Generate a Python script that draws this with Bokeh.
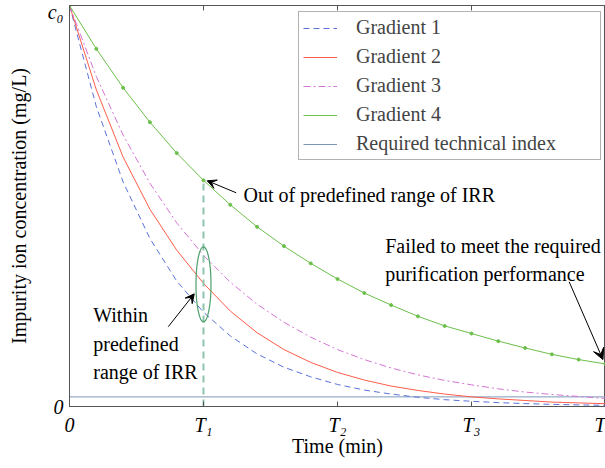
from bokeh.plotting import figure
from bokeh.models import Range1d, LinearAxis, FixedTicker, Legend, LegendItem, Label, Arrow, VeeHead
from bokeh.embed import file_html
from bokeh.resources import INLINE

# ---- data (concentration in units of c0) ----
time = [0.0, 0.2, 0.4, 0.6, 0.8, 1.0, 1.2, 1.4, 1.6, 1.8, 2.0,
        2.2, 2.4, 2.6, 2.8, 3.0, 3.2, 3.4, 3.6, 3.8, 4.0]
gradient1 = [1.000, 0.748, 0.560, 0.419, 0.313, 0.235, 0.176, 0.131, 0.098, 0.074, 0.055,
             0.041, 0.031, 0.023, 0.017, 0.013, 0.0097, 0.0072, 0.0054, 0.0040, 0.0030]
gradient2 = [1.000, 0.790, 0.622, 0.492, 0.390, 0.307, 0.238, 0.184, 0.142, 0.110, 0.085,
             0.066, 0.051, 0.040, 0.031, 0.024, 0.019, 0.015, 0.011, 0.009, 0.007]
gradient3 = [1.000, 0.823, 0.677, 0.557, 0.458, 0.377, 0.310, 0.255, 0.210, 0.173, 0.142,
             0.117, 0.096, 0.079, 0.065, 0.054, 0.044, 0.036, 0.030, 0.025, 0.020]
gradient4 = [1.000, 0.892, 0.795, 0.709, 0.632, 0.564, 0.503, 0.448, 0.400, 0.357, 0.318,
             0.283, 0.253, 0.225, 0.201, 0.182, 0.163, 0.146, 0.130, 0.117, 0.106]
required_index = 0.024
series_names = ["Gradient 1", "Gradient 2", "Gradient 3", "Gradient 4", "Required technical index"]

x_tick_values = [0, 1, 2, 3, 4]
x_tick_labels = ["0", "T\u2081", "T\u2082", "T\u2083", "T"]
y_tick_values = [0, 1]
y_tick_labels = ["0", "c\u2080"]
x_title = "Time (min)"
y_title = "Impurity ion concentration (mg/L)"

t1_index = 5           # position of T1 in time list
ellipse_center = 0.3045
ellipse_w = 0.112
ellipse_h = 0.187

FONT = "Liberation Serif"
AX = "#555555"

p = figure(width=605, height=468, x_range=Range1d(0, 4), y_range=Range1d(0, 1),
           output_backend="svg", toolbar_location=None,
           min_border_left=69, min_border_right=0, min_border_top=5, min_border_bottom=62)
p.xgrid.visible = False
p.ygrid.visible = False
p.outline_line_color = AX
p.outline_line_width = 1
p.background_fill_color = "white"
p.border_fill_color = "white"


def style_axis(ax, ticks, labels, title=None, standoff=0, label_standoff=6):
    ax.ticker = FixedTicker(ticks=ticks)
    ax.major_tick_in = 5
    ax.major_tick_out = 0
    ax.minor_tick_line_color = None
    ax.major_tick_line_color = AX
    ax.axis_line_color = AX
    ax.major_label_overrides = {t: s for t, s in zip(ticks, labels)}
    ax.major_label_text_font = FONT
    ax.major_label_text_font_size = "20px"
    ax.major_label_text_font_style = "italic"
    ax.major_label_text_color = "black"
    ax.major_label_standoff = label_standoff
    if title:
        ax.axis_label = title
        ax.axis_label_text_font = FONT
        ax.axis_label_text_font_size = "20px"
        ax.axis_label_text_font_style = "normal"
        ax.axis_label_text_color = "black"
        ax.axis_label_standoff = standoff


style_axis(p.xaxis[0], x_tick_values, x_tick_labels, x_title, -4, 7)
style_axis(p.yaxis[0], y_tick_values, y_tick_labels, y_title, 15, 6)
p.yaxis[0].major_label_orientation = "horizontal"

top_axis = LinearAxis()
style_axis(top_axis, x_tick_values, [""] * len(x_tick_values), label_standoff=0)
top_axis.major_label_text_font_size = "1px"
p.add_layout(top_axis, "above")

c1, c2, c3, c4 = "#5a72d8", "#ff5c4a", "#d474d4", "#6cbf4a"
creq = "#7d97b8"

r5 = p.line([time[0], time[-1]], [required_index, required_index], line_color=creq, line_width=1)
r1 = p.line(time, gradient1, line_color=c1, line_width=1, line_dash="6 4")
r2 = p.line(time, gradient2, line_color=c2, line_width=1)
r3 = p.line(time, gradient3, line_color=c3, line_width=1, line_dash="7 3 2 3")
r4 = p.line(time, gradient4, line_color=c4, line_width=1)
r4m = p.scatter(time, gradient4, size=3, color=c4)

# vertical dashed line at T1 and ellipse
p.line([time[t1_index], time[t1_index]], [0, gradient4[t1_index]],
       line_color="#8fc4ac", line_width=2, line_dash="7 5")
p.ellipse(x=[time[t1_index]], y=[ellipse_center], width=ellipse_w, height=ellipse_h,
          fill_alpha=0, line_color="#4f9f6e", line_width=1.2)

legend = Legend(items=[
    LegendItem(label=series_names[0], renderers=[r1]),
    LegendItem(label=series_names[1], renderers=[r2]),
    LegendItem(label=series_names[2], renderers=[r3]),
    LegendItem(label=series_names[3], renderers=[r4]),
    LegendItem(label=series_names[4], renderers=[r5]),
], location=(229, 246))
legend.border_line_color = "#666666"
legend.border_line_width = 1
legend.padding = 4
legend.spacing = 6
legend.margin = 0
legend.glyph_width = 34
legend.glyph_height = 20
legend.label_height = 20
legend.label_width = 240
legend.label_standoff = 19
legend.label_text_font = FONT
legend.label_text_font_size = "20px"
legend.label_text_baseline = "middle"
p.add_layout(legend)


# annotations
def txt(x, y, s):
    p.add_layout(Label(x=x, y=y, text=s, text_font=FONT, text_font_size="20px",
                       text_align="left", text_baseline="alphabetic", text_color="black"))


txt(1.298, 0.528, "Out of predefined range of IRR")
txt(0.177, 0.229, "Within")
txt(0.177, 0.157, "predefined")
txt(0.177, 0.085, "range of IRR")
txt(2.356, 0.401, "Failed to meet the required")
txt(2.356, 0.330, "purification performance")


def arrow(xs, ys, xe, ye, size=9):
    p.add_layout(Arrow(end=VeeHead(size=size, fill_color="black", line_color="black", line_width=1),
                       x_start=xs, y_start=ys, x_end=xe, y_end=ye,
                       line_color="black", line_width=1))


arrow(1.244, 0.533, 1.028, 0.563)
arrow(0.737, 0.199, 0.931, 0.281)
arrow(3.729, 0.311, 3.981, 0.117, 11)

open("out.html", "w").write(file_html(p, INLINE))
